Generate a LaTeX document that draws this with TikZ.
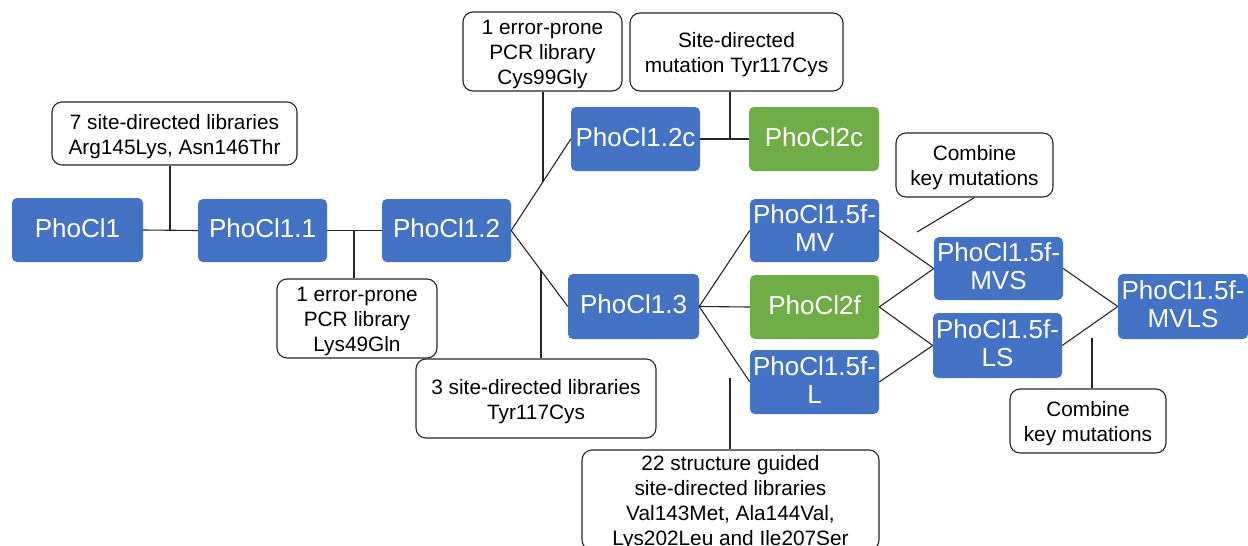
\documentclass[tikz,border=0pt]{standalone}
\usepackage{fontspec}
\setmainfont{Liberation Sans}
\usetikzlibrary{calc}
\definecolor{varblue}{HTML}{4472C4}
\definecolor{vargreen}{HTML}{70AD47}
\definecolor{linkgray}{HTML}{262626}
% struts that fix the first-line height and last-line depth of node texts
\newcommand{\vtopstrut}{\rule{0pt}{19.6pt}}
\newcommand{\vbotstrut}{\rule[-5pt]{0pt}{5pt}}
\newcommand{\ntopstrut}{\rule{0pt}{20.5pt}}
\newcommand{\nbotstrut}{\rule[-4.5pt]{0pt}{4.5pt}}
\tikzset{
  variant/.style={fill=varblue, draw=none, rounded corners=5pt, text=white,
    minimum width=129pt, minimum height=63pt, inner sep=0pt, align=center,
    font=\fontsize{26}{28}\selectfont},
  final/.style={variant, fill=vargreen},
  note/.style={draw=linkgray, fill=white, line width=1.1pt, rounded corners=10pt,
    inner sep=0pt, align=center, font=\fontsize{20.8}{25}\selectfont},
  link/.style={draw=linkgray, line width=1.1pt},
}
\begin{document}
\begin{tikzpicture}[x=1pt,y=-1pt]
\clip (0,0) rectangle (1248,546);
\fill[white] (0,0) rectangle (1248,546);

% engineered variants
\node[variant, minimum width=131pt, minimum height=64pt] (p1)  at (77.5,230)   {\vtopstrut PhoCl1\vbotstrut};
\node[variant] (p11)   at (262.5,230.5) {\vtopstrut PhoCl1.1\vbotstrut};
\node[variant] (p12)   at (446.5,230.5) {\vtopstrut PhoCl1.2\vbotstrut};
\node[variant, minimum height=64pt] (p12c)  at (635.5,139)   {\vtopstrut PhoCl1.2c\vbotstrut};
\node[final, minimum width=130pt, minimum height=64pt] (p2c) at (814,139) {\vtopstrut PhoCl2c\vbotstrut};
\node[variant, minimum width=131pt, minimum height=65pt] (p13) at (633.5,306.5) {\vtopstrut PhoCl1.3\vbotstrut};
\node[variant] (pmv)   at (814.5,230.5) {\vtopstrut PhoCl1.5f-\\MV\vbotstrut};
\node[final, minimum height=64pt] (p2f) at (814.5,307) {\vtopstrut PhoCl2f\vbotstrut};
\node[variant, minimum height=64pt] (pl) at (814.5,382) {\vtopstrut PhoCl1.5f-\\L\vbotstrut};
\node[variant] (pmvs)  at (998.5,268.5) {\vtopstrut PhoCl1.5f-\\MVS\vbotstrut};
\node[variant, minimum height=65pt] (pls) at (997.5,345.5) {\vtopstrut PhoCl1.5f-\\LS\vbotstrut};
\node[variant, minimum width=130pt, minimum height=65pt] (pmvls) at (1183,306.5) {\vtopstrut PhoCl1.5f-\\MVLS\vbotstrut};

% library notes
\node[note, minimum width=245pt, minimum height=63pt] (n7) at (174.5,133.5)
  {\ntopstrut 7 site-directed libraries\\Arg145Lys, Asn146Thr\nbotstrut};
\node[note, minimum width=160pt, minimum height=79pt] (nlys) at (357,318.5)
  {\ntopstrut 1 error-prone\\PCR library\\Lys49Gln\nbotstrut};
\node[note, minimum width=159pt, minimum height=79pt] (ncys) at (542.5,51.5)
  {\ntopstrut 1 error-prone\\PCR library\\Cys99Gly\nbotstrut};
\node[note, minimum width=213pt, minimum height=78pt] (nsite) at (736.5,52)
  {\ntopstrut Site-directed\\mutation Tyr117Cys\nbotstrut};
\node[note, minimum width=240pt, minimum height=79pt] (n3) at (536,398.5)
  {\ntopstrut 3 site-directed libraries\\Tyr117Cys\nbotstrut};
\node[note, minimum width=297pt, minimum height=98pt] (n22) at (730.5,500)
  {\ntopstrut 22 structure guided\\site-directed libraries\\Val143Met, Ala144Val,\\Lys202Leu and Ile207Ser\nbotstrut};
\node[note, minimum width=157pt, minimum height=64pt] (nc1) at (974.5,165)
  {\ntopstrut Combine\\key mutations\nbotstrut};
\node[note, minimum width=156pt, minimum height=64pt] (nc2) at (1088,421)
  {\ntopstrut Combine\\key mutations\nbotstrut};

% junction points
\coordinate (j1) at (170,230);
\coordinate (j2) at (354,230.5);
\coordinate (j3) at ($(p12.east)!0.533!(p12c.west)$);
\coordinate (j4) at ($(p12.east)!0.526!(p13.west)$);
\coordinate (j5) at (730,139);
\coordinate (j6) at (730,378);
\coordinate (c1) at (917,232);
\coordinate (c2) at (1092,338);

% lineage connectors
\draw[link] (p1.east) -- (p11.west);
\draw[link] (p11.east) -- (p12.west);
\draw[link] (p12.east) -- (p12c.west);
\draw[link] (p12.east) -- (p13.west);
\draw[link] (p12c.east) -- (p2c.west);
\draw[link] (p13.east) -- (pmv.west);
\draw[link] (p13.east) -- (p2f.west);
\draw[link] (p13.east) -- (pl.west);
\draw[link] (pmv.east) -- (pmvs.west);
\draw[link] (p2f.east) -- (pmvs.west);
\draw[link] (p2f.east) -- (pls.west);
\draw[link] (pl.east) -- (pls.west);
\draw[link] (pmvs.east) -- (pmvls.west);
\draw[link] (pls.east) -- (pmvls.west);

% note leaders
\draw[link] (j1 |- n7.south) -- (j1);
\draw[link] (j2) -- (j2 |- nlys.north);
\draw[link] (j3 |- ncys.south) -- (j3);
\draw[link] (j4) -- (j4 |- n3.north);
\draw[link] (j5 |- nsite.south) -- (j5);
\draw[link] (j6) -- (j6 |- n22.north);
\draw[link] (nc1.south) -- (c1);
\draw[link] (c2) -- (c2 |- nc2.north);
\end{tikzpicture}
\end{document}
